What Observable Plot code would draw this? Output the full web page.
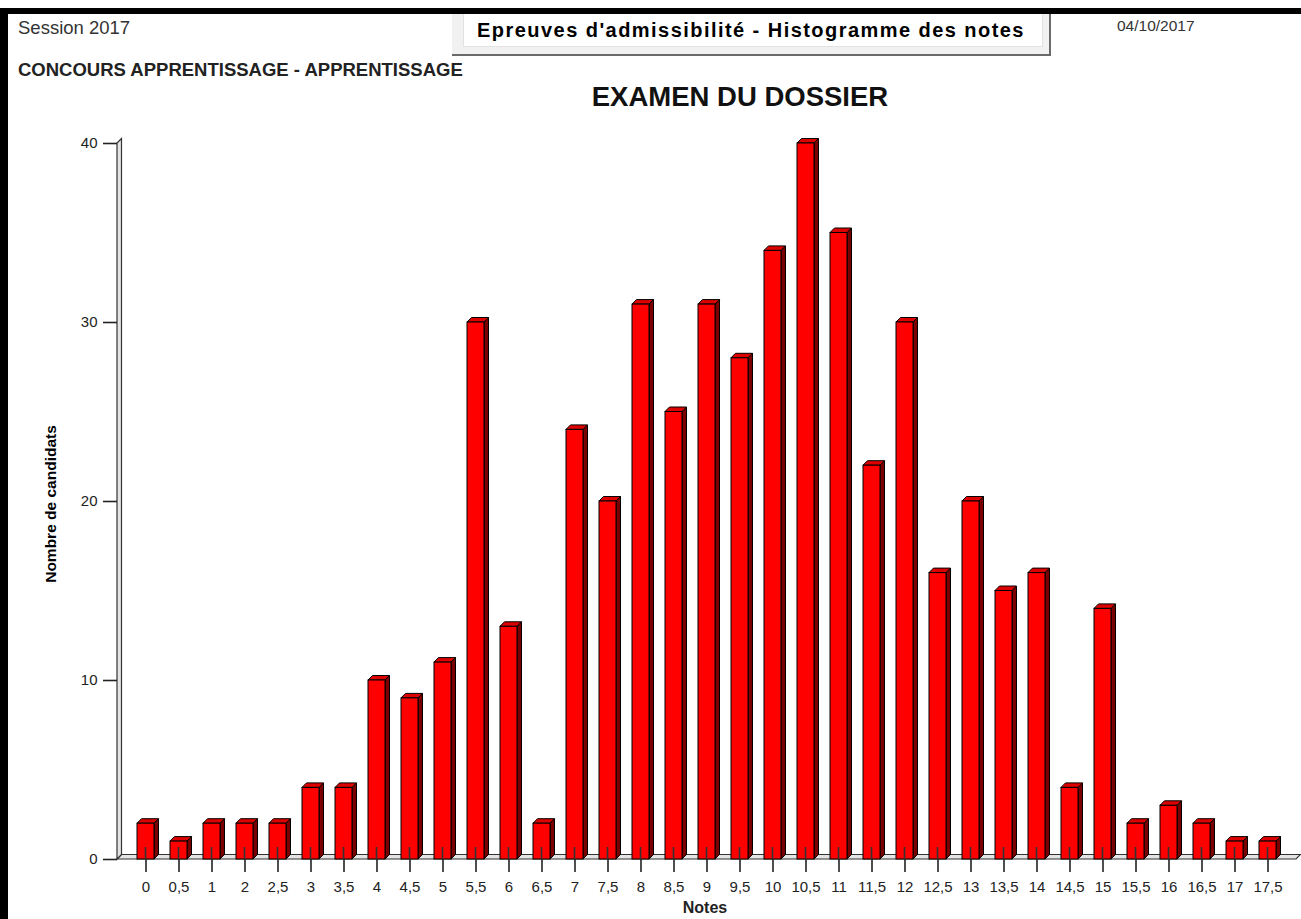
<!DOCTYPE html>
<html><head><meta charset="utf-8">
<script src="https://cdn.jsdelivr.net/npm/d3@7"></script>
<script src="https://cdn.jsdelivr.net/npm/@observablehq/plot@0.6"></script>
<style>
html,body{margin:0;padding:0;background:#fff;overflow:hidden}
#page{position:relative;width:1301px;height:919px;font-family:"Liberation Sans",Arial,sans-serif;background:#fff}
.abs{position:absolute;white-space:nowrap;line-height:1}
</style></head><body>
<div id="page">
  <div id="chart" class="abs" style="left:0;top:0"></div>
  <div class="abs" style="left:0;top:8px;width:1301px;height:6px;background:#000"></div>
  <div class="abs" style="left:0;top:8px;width:8px;height:911px;background:#000"></div>
  <div class="abs" style="left:452px;top:14px;width:597px;height:40px;background:#f1f1f1;border-right:2px solid #6a6a6a;border-bottom:2px solid #6a6a6a"></div>
  <div class="abs" style="left:463px;top:14px;width:578px;height:32px;background:#fff;border:1px solid #e2e2e2;border-top:none"></div>
  <div id="session" class="abs" style="left:18px;top:18.8px;font-size:18.5px;color:#333">Session 2017</div>
  <div id="concours" class="abs" style="left:18px;top:60.8px;font-size:18.5px;font-weight:bold;color:#222">CONCOURS APPRENTISSAGE - APPRENTISSAGE</div>
  <div id="boxtitle" class="abs" style="left:751px;top:20px;transform:translateX(-50%);font-size:20px;font-weight:bold;letter-spacing:1.45px;color:#000">Epreuves d'admissibilité - Histogramme des notes</div>
  <div id="date" class="abs" style="left:1117px;top:17.9px;font-size:15.5px;color:#333">04/10/2017</div>
  <div id="title" class="abs" style="left:740px;top:83.2px;transform:translateX(-50%);font-size:27.5px;font-weight:bold;color:#111">EXAMEN DU DOSSIER</div>
  <div id="ylabel" class="abs" style="left:51px;top:503.5px;transform:translate(-50%,-50%) rotate(-90deg);font-size:15.5px;font-weight:bold;color:#000">Nombre de candidats</div>
  <div id="xlabel" class="abs" style="left:705px;top:899.8px;transform:translateX(-50%);font-size:16px;font-weight:bold;color:#222">Notes</div>
</div>
<script>
const notes = ["0","0,5","1","2","2,5","3","3,5","4","4,5","5","5,5","6","6,5","7","7,5","8","8,5","9","9,5","10","10,5","11","11,5","12","12,5","13","13,5","14","14,5","15","15,5","16","16,5","17","17,5"];
const counts = [2,1,2,2,2,4,4,10,9,11,30,13,2,24,20,31,25,31,28,34,40,35,22,30,16,20,15,16,4,14,2,3,2,1,1];
const yTicks = [0,10,20,30,40];

const data = notes.map((n, i) => ({note: n, count: counts[i]}));
const depth = 4.5;

function base(index, scales, values, dim) {
  const y0 = scales.y(0), yTop = scales.y(d3.max(yTicks));
  const xL = dim.marginLeft, xR = dim.width - dim.marginRight;
  const g = d3.create("svg:g");
  g.append("polygon")
    .attr("points", [[xL, y0], [xR, y0], [xR + depth, y0 - depth], [xL + depth, y0 - depth]].join(" "))
    .attr("fill", "#e4e4e4").attr("stroke", "#333").attr("stroke-width", 1.2);
  g.append("polygon")
    .attr("points", [[xL, y0], [xL, yTop], [xL + depth, yTop - depth], [xL + depth, y0 - depth]].join(" "))
    .attr("fill", "#e4e4e4").attr("stroke", "#333").attr("stroke-width", 1.2);
  return g.node();
}

function bars3d(index, scales, values) {
  const bw = scales.x.bandwidth();
  const g = d3.create("svg:g");
  for (const i of index) {
    const x0 = values.x[i], x1 = x0 + bw;
    const yT = Math.min(values.y1[i], values.y2[i]);
    const yB = Math.max(values.y1[i], values.y2[i]);
    g.append("polygon")
      .attr("points", [[x1, yT], [x1 + depth, yT - depth], [x1 + depth, yB - depth], [x1, yB]].join(" "))
      .attr("fill", "#7a0000").attr("stroke", "#000");
    g.append("polygon")
      .attr("points", [[x0, yT], [x0 + depth, yT - depth], [x1 + depth, yT - depth], [x1, yT]].join(" "))
      .attr("fill", "#dd0000").attr("stroke", "#000");
    g.append("rect")
      .attr("x", x0).attr("y", yT).attr("width", bw).attr("height", yB - yT)
      .attr("fill", "#ff0000").attr("stroke", "#000");
    const xc = x0 + bw / 2;
    g.append("line")
      .attr("x1", xc).attr("x2", xc).attr("y1", yB - 12).attr("y2", yB)
      .attr("stroke", "#333").attr("stroke-width", 1.6);
  }
  return g.node();
}

const chart = Plot.plot({
  width: 1301,
  height: 919,
  marginLeft: 117,
  marginRight: 5,
  marginTop: 143,
  marginBottom: 60,
  style: {background: "transparent", fontFamily: "'Liberation Sans', Arial, sans-serif", overflow: "visible"},
  x: {type: "band", domain: notes, paddingInner: 0.5, paddingOuter: 0.534, align: 0.5},
  y: {domain: [0, 40]},
  marks: [
    Plot.ruleY([0], {render: base}),
    Plot.barY(data, {x: "note", y: "count", render: bars3d}),
    Plot.axisY({ticks: yTicks, tickSize: 14, tickPadding: 6, fontSize: 15, label: null, color: "#222", strokeWidth: 1.6}),
    Plot.axisX({tickSize: 13, tickPadding: 9, fontSize: 15, label: null, color: "#222", strokeWidth: 1.6})
  ]
});
document.getElementById("chart").appendChild(chart);
</script>
</body></html>
